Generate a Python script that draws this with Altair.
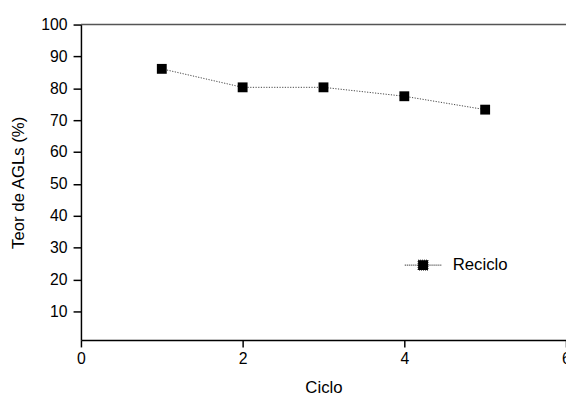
import altair as alt
import pandas as pd

ciclo = [1, 2, 3, 4, 5]
teor = [86.1, 80.3, 80.3, 77.5, 73.3]
serie = ["Reciclo"] * 5
y_ticks = [10, 20, 30, 40, 50, 60, 70, 80, 90, 100]
x_ticks = [0, 2, 4, 6]
top_value = [100]

df = pd.DataFrame({"Ciclo": ciclo, "Teor": teor, "Serie": serie})

FONT = "Liberation Sans"
AX = dict(labelFont=FONT, titleFont=FONT, labelFontSize=16, titleFontSize=17,
          labelColor="black", titleColor="black", titleFontWeight="normal",
          domainColor="black", tickColor="black", domainWidth=1.5, tickWidth=1.5,
          labelOverlap=False, labelFlush=False, grid=False)

x_enc = alt.X("Ciclo:Q", scale=alt.Scale(domain=[0, 6], nice=False, zero=False),
              axis=alt.Axis(values=x_ticks, title="Ciclo", tickSize=7,
                            labelPadding=4, titlePadding=13, format="d", **AX))
y_enc = alt.Y("Teor:Q", scale=alt.Scale(domain=[1, 100], nice=False, zero=False),
              axis=alt.Axis(values=y_ticks, title="Teor de AGLs (%)",
                            tickSize=8, labelPadding=6, titlePadding=14, **AX))

line = alt.Chart(df).mark_line(color="#444444", strokeWidth=1, strokeDash=[1.2, 1.5]).encode(
    x=x_enc, y=y_enc)

legend_path = ("M-1,0 L-0.3,0 M0.3,0 L1,0 "
               "M-0.27,-0.27 L0.27,-0.27 L0.27,0.27 L-0.27,0.27 Z")

points = alt.Chart(df).mark_point(shape="square", filled=True, size=100, opacity=1).encode(
    x=x_enc, y=y_enc,
    color=alt.Color("Serie:N", scale=alt.Scale(range=["black"]),
                    legend=alt.Legend(title=None, orient="none", legendX=328, legendY=225,
                                      symbolType=legend_path, symbolSize=1369,
                                      symbolStrokeColor="black", symbolStrokeWidth=1,
                                      symbolDash=[1, 1], symbolFillColor="black",
                                      labelFontSize=17, labelOffset=11, padding=0,
                                      labelFont=FONT, labelColor="black")))

top_line = alt.Chart(pd.DataFrame({"Teor": top_value})).mark_rule(
    color="#555555", strokeWidth=1.5).encode(y=y_enc)

chart = alt.layer(line, points, top_line).properties(
    width=492, height=320,
    padding={"left": 74, "top": 14, "right": 0, "bottom": 56},
    autosize=alt.AutoSizeParams(type="none"),
).configure_view(stroke=None)

chart.save("out.html", embed_options={"renderer": "svg", "actions": False})
